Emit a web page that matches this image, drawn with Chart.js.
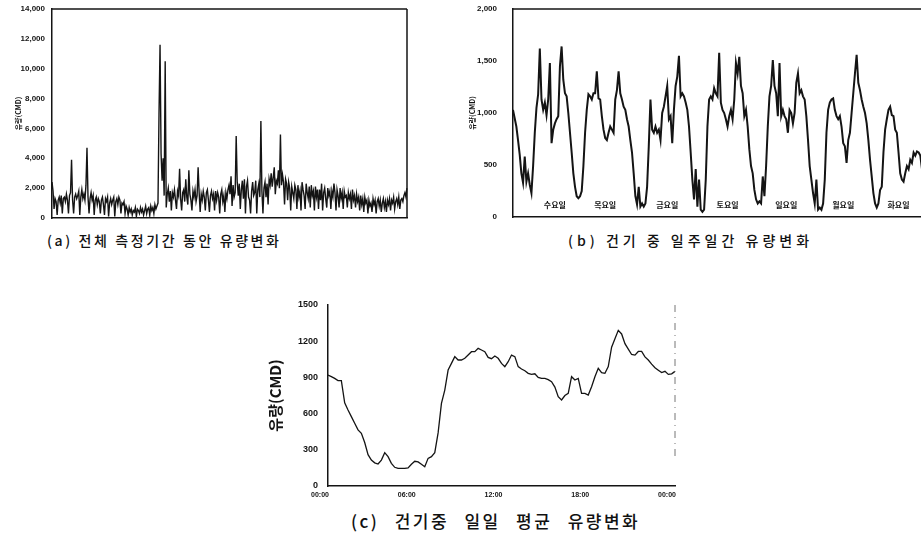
<!DOCTYPE html>
<html>
<head>
<meta charset="utf-8">
<script src="https://cdn.jsdelivr.net/npm/chart.js@4.4.1/dist/chart.umd.min.js"></script>
<style>
  html, body { margin: 0; padding: 0; background: #fff; overflow: hidden; }
  body { width: 921px; height: 541px; position: relative; }
  .box { position: absolute; }
  .cap { position: absolute; font-family: "Noto Sans CJK KR", sans-serif; font-weight: 500; color: #111; white-space: nowrap; }
</style>
</head>
<body>
<div class="box" style="left:0;top:0;width:408px;height:224px;"><canvas id="chartA"></canvas></div>
<div class="box" style="left:460px;top:0;width:462px;height:223px;"><canvas id="chartB"></canvas></div>
<div class="box" style="left:260px;top:296px;width:416px;height:206px;"><canvas id="chartC"></canvas></div>
<div class="cap" style="left:47px;top:230px;font-size:14px;letter-spacing:2.6px;">(a) 전체 측정기간 동안 유량변화</div>
<div class="cap" style="left:568px;top:230px;font-size:14px;letter-spacing:4px;">(b) 건기 중 일주일간 유량변화</div>
<div class="cap" style="left:351px;top:508px;font-size:17px;letter-spacing:2.5px;word-spacing:9px;">(c) 건기중 일일 평균 유량변화</div>
<script>
// (a) 전체 측정기간 유량 (CMD)
const flowA = [
  2400, 1800, 600, 1300, 1100, 200, 1200, 1400, 1000, 1500,
  300, 1300, 1400, 1100, 1600, 1200, 300, 1500, 1700, 3900,
  1200, 300, 1400, 1600, 1300, 1500, 1800, 200, 1400, 1900,
  1300, 1600, 1200, 2200, 4700, 1400, 300, 1300, 1700, 1200,
  1500, 200, 1200, 1400, 900, 1300, 1100, 300, 1200, 1400,
  900, 200, 1300, 1100, 1400, 100, 1000, 1300, 900, 1200,
  1400, 100, 1100, 1300, 900, 1400, 1200, 300, 1000, 900,
  1100, 300, 800, 600, 200, 700, 400, 600, 200, 500,
  400, 700, 100, 600, 500, 300, 700, 400, 600, 200,
  500, 800, 300, 600, 700, 200, 800, 500, 700, 300,
  900, 600, 800, 1000, 7000, 11600, 4300, 2500, 4000, 1500,
  10500, 700, 1600, 2000, 1100, 1800, 500, 1700, 1400, 1900,
  1200, 600, 1800, 1500, 3300, 1300, 500, 1700, 1900, 1100,
  2600, 1400, 900, 3200, 1600, 1200, 500, 1800, 1400, 1900,
  1100, 1500, 3400, 1700, 400, 1600, 1200, 1800, 1400, 500,
  1700, 1900, 1200, 400, 1500, 1800, 1300, 1600, 500, 1800,
  1200, 1700, 1400, 300, 1600, 1900, 1100, 1500, 400, 1700,
  1300, 1900, 2200, 1600, 2800, 800, 2200, 1400, 1700, 5500,
  2400, 1500, 2300, 600, 1900, 2500, 1300, 2600, 300, 2100,
  2500, 1400, 1200, 300, 1800, 2400, 1500, 1700, 2500, 300,
  1900, 2300, 1400, 6500, 1800, 300, 2000, 2400, 1400, 2300,
  900, 2600, 2200, 3000, 2100, 2700, 3400, 1600, 2500, 2300,
  3200, 2000, 5600, 2200, 2900, 2400, 900, 2600, 2300, 1200,
  2400, 2000, 500, 2100, 1700, 1300, 2200, 1900, 600, 2200,
  1400, 1800, 500, 2400, 1900, 1500, 600, 2300, 1700, 1300,
  2100, 700, 2200, 1500, 1800, 500, 2100, 1400, 1900, 600,
  1900, 1200, 2300, 500, 1700, 2000, 1300, 700, 2000, 1500,
  1800, 600, 1800, 1400, 2300, 1700, 500, 1900, 1500, 700,
  2000, 1300, 1700, 600, 1800, 1400, 1500, 700, 1700, 1300,
  1600, 600, 1900, 1200, 1500, 700, 1600, 1100, 1400, 500,
  1500, 900, 1300, 400, 1400, 1000, 1200, 300, 1200, 800,
  1000, 400, 1300, 900, 1200, 300, 1100, 1300, 800, 1200,
  400, 1000, 1300, 700, 1100, 400, 1200, 900, 1300, 500,
  1200, 1000, 1400, 600, 1100, 1300, 900, 1400, 600, 1200,
  1300, 1100, 1500, 1700, 1400, 2000
];
const yTicksA = [0, 2000, 4000, 6000, 8000, 10000, 12000, 14000];

// (b) 일주일간 유량 (CMD)
const flowB = [
  1030, 950, 870, 740, 600, 420, 330, 580, 340, 420,
  310, 230, 490, 810, 1050, 1180, 1620, 1130, 1030, 1100,
  980, 1130, 1480, 710, 840, 900, 940, 970, 1450, 1640,
  1320, 1190, 1160, 1000, 810, 620, 420, 290, 200, 180,
  200, 250, 490, 810, 1030, 1180, 1160, 1130, 1190, 1190,
  1400, 1140, 1130, 970, 840, 760, 740, 810, 870, 840,
  810, 1130, 1220, 1400, 1190, 1130, 1060, 1030, 940, 870,
  740, 620, 420, 200, 120, 290, 100, 130, 100, 130,
  290, 680, 1130, 840, 810, 870, 810, 840, 740, 1000,
  1060, 1160, 1260, 940, 970, 710, 1030, 1260, 1350, 1550,
  1160, 1190, 1160, 1100, 1030, 870, 620, 360, 170, 460,
  100, 360, 70, 50, 70, 360, 870, 1130, 1160, 1130,
  1240, 1190, 1160, 1580, 1100, 1030, 1000, 940, 870, 970,
  1030, 940, 1130, 1480, 1380, 1540, 1260, 1190, 970, 1030,
  870, 650, 490, 420, 260, 170, 130, 150, 130, 390,
  200, 490, 870, 1160, 1260, 1510, 1260, 1190, 970, 1480,
  970, 1030, 970, 940, 810, 1030, 1000, 900, 1000, 1290,
  1380, 1190, 1220, 1160, 1130, 970, 740, 490, 360, 230,
  130, 360, 70, 90, 70, 130, 360, 810, 1030, 1100,
  1130, 1140, 1030, 970, 940, 970, 870, 710, 680, 520,
  740, 810, 1000, 1190, 1380, 1560, 1290, 1220, 1130, 1060,
  1000, 900, 740, 550, 390, 230, 130, 90, 130, 260,
  290, 620, 840, 940, 1030, 1060, 980, 970, 840, 810,
  620, 420, 360, 340, 420, 490, 460, 550, 520, 620,
  590, 630, 620, 590, 460
];
const yTicksB = [0, 500, 1000, 1500, 2000];
const dayNames = ['수요일', '목요일', '금요일', '토요일', '일요일', '월요일', '화요일'];
const dayLabelAt = [25, 55, 92, 128, 163, 197, 230]; // 샘플 번호 기준 위치

// (c) 일일 평균 유량 (CMD), 00:00 ~ 24:00 균등 간격
const flowC = [
  920, 906, 892, 873, 873, 690, 630, 575, 520, 465,
  436, 360, 260, 215, 192, 182, 215, 276, 243, 188,
  155, 146, 146, 146, 150, 180, 205, 200, 180, 160,
  229, 243, 276, 440, 685, 795, 961, 1016, 1072, 1044,
  1044, 1058, 1085, 1113, 1113, 1141, 1127, 1113, 1066, 1055,
  1077, 1058, 1016, 989, 1030, 1085, 1072, 989, 970, 955,
  934, 925, 930, 900, 892, 892, 882, 865, 820, 740,
  713, 750, 768, 906, 878, 892, 768, 768, 754, 823,
  906, 975, 940, 934, 990, 1150, 1220, 1290, 1260, 1180,
  1135, 1090, 1085, 1115, 1115, 1070, 1044, 1010, 980, 960,
  940, 950, 925, 930, 950
];
const yTicksC = [0, 300, 600, 900, 1200, 1500];
const hourTicksC = [0, 6, 12, 18, 24];
const hourLabelsC = ['00:00', '06:00', '12:00', '18:00', '00:00'];

const INK = '#141414';
const tickFont = { family: 'Liberation Sans', size: 8, weight: 'bold' };

// 테두리 그리기
const framePlugin = {
    id: 'frame',
    afterDraw(chart, args, opts) {
        const a = chart.chartArea;
        const c = chart.ctx;
        c.save();
        c.strokeStyle = INK;
        c.lineWidth = 1.5;
        if (opts.top) {
            c.beginPath(); c.moveTo(a.left, a.top); c.lineTo(a.right, a.top); c.stroke();
        }
        if (opts.right) {
            c.beginPath(); c.moveTo(a.right, a.top); c.lineTo(a.right, a.bottom); c.stroke();
        }
        if (opts.dashRight) {
            c.lineWidth = 1;
            c.strokeStyle = '#777';
            c.setLineDash([7, 5, 1, 5]);
            c.beginPath(); c.moveTo(a.right, a.top); c.lineTo(a.right, a.bottom - 30); c.stroke();
        }
        c.restore();
    }
};

// 요일 표시
const dayPlugin = {
    id: 'days',
    afterDatasetsDraw(chart) {
        const x = chart.scales.x, y = chart.scales.y;
        const c = chart.ctx;
        c.save();
        c.fillStyle = INK;
        c.font = 'bold 8px "Noto Sans CJK KR"';
        c.textAlign = 'center';
        c.textBaseline = 'middle';
        dayNames.forEach((d, i) => {
            c.fillText(d, x.getPixelForValue(dayLabelAt[i]), y.getPixelForValue(115));
        });
        c.restore();
    }
};

// 축 크기 고정 (라벨 여백 제거)
function fixY(w) { return function (s) { s.width = w; s.paddingTop = 0; s.paddingBottom = 0; }; }
function fixX(h) { return function (s) { s.height = h; s.paddingLeft = 0; s.paddingRight = 0; }; }

// (a)
new Chart(document.getElementById('chartA'), {
    type: 'line',
    data: {
        labels: flowA.map((v, i) => i),
        datasets: [{ data: flowA, borderColor: INK, borderWidth: 1.4, pointRadius: 0, tension: 0 }]
    },
    options: {
        responsive: true, maintainAspectRatio: false, animation: false,
        layout: { padding: { top: 9, bottom: 6, left: 0, right: 1 } },
        plugins: { legend: { display: false }, tooltip: { enabled: false }, frame: { top: true, right: true } },
        scales: {
            x: {
                ticks: { display: false }, grid: { display: false },
                border: { color: INK, width: 1.5 }, afterFit: fixX(0)
            },
            y: {
                min: 0, max: 14000,
                afterBuildTicks: s => { s.ticks = yTicksA.map(v => ({ value: v })); },
                ticks: { color: INK, font: tickFont, padding: 7, callback: v => v.toLocaleString('en-US') },
                grid: { display: false, drawTicks: false },
                border: { color: INK, width: 1.5 },
                title: { display: true, text: '유량(CMD)', color: INK, font: { family: 'Noto Sans CJK KR', size: 7, weight: 'bold' }, padding: { top: 14 } },
                afterFit: fixY(52)
            }
        }
    },
    plugins: [framePlugin]
});

// (b)
new Chart(document.getElementById('chartB'), {
    type: 'line',
    data: {
        labels: flowB.map((v, i) => i),
        datasets: [{ data: flowB, borderColor: INK, borderWidth: 2, pointRadius: 0, tension: 0 }]
    },
    options: {
        responsive: true, maintainAspectRatio: false, animation: false,
        layout: { padding: { top: 9, bottom: 6, left: 0, right: 0 } },
        plugins: { legend: { display: false }, tooltip: { enabled: false }, frame: { top: true } },
        scales: {
            x: {
                ticks: { display: false }, grid: { display: false },
                border: { color: INK, width: 1.5 }, afterFit: fixX(0)
            },
            y: {
                min: 0, max: 2000,
                afterBuildTicks: s => { s.ticks = yTicksB.map(v => ({ value: v })); },
                ticks: { color: INK, font: tickFont, padding: 16, callback: v => v.toLocaleString('en-US') },
                grid: { display: false, drawTicks: false },
                border: { color: INK, width: 1.5 },
                title: { display: true, text: '유량(CMD)', color: INK, font: { family: 'Noto Sans CJK KR', size: 7, weight: 'bold' }, padding: { top: 8 } },
                afterFit: fixY(53)
            }
        }
    },
    plugins: [framePlugin, dayPlugin]
});

// (c)
new Chart(document.getElementById('chartC'), {
    type: 'line',
    data: {
        datasets: [{
            data: flowC.map((v, i) => ({ x: i * 24 / (flowC.length - 1), y: v })),
            borderColor: INK, borderWidth: 1.3, pointRadius: 0, tension: 0
        }]
    },
    options: {
        responsive: true, maintainAspectRatio: false, animation: false,
        layout: { padding: { top: 9, bottom: 0, left: 0, right: 1 } },
        plugins: { legend: { display: false }, tooltip: { enabled: false }, frame: { dashRight: true } },
        scales: {
            x: {
                type: 'linear', min: 0, max: 24,
                afterBuildTicks: s => { s.ticks = hourTicksC.map(v => ({ value: v })); },
                ticks: {
                    color: INK, font: { family: 'Liberation Sans', size: 7, weight: 'bold' },
                    padding: 5, labelOffset: -8, maxRotation: 0,
                    callback: (v, i) => hourLabelsC[i]
                },
                grid: { display: false, drawTicks: false },
                border: { color: INK, width: 1.5 },
                afterFit: fixX(16)
            },
            y: {
                min: 0, max: 1500,
                afterBuildTicks: s => { s.ticks = yTicksC.map(v => ({ value: v })); },
                ticks: { color: INK, font: { family: 'Liberation Sans', size: 9, weight: 'bold' }, padding: 10, callback: v => String(v) },
                grid: { display: false, drawTicks: false },
                border: { color: INK, width: 1.5 },
                title: { display: true, text: '유량(CMD)', color: INK, font: { family: 'Noto Sans CJK KR', size: 15, weight: 'bold' }, padding: { top: 6 } },
                afterFit: fixY(68)
            }
        }
    },
    plugins: [framePlugin]
});
</script>
</body>
</html>
